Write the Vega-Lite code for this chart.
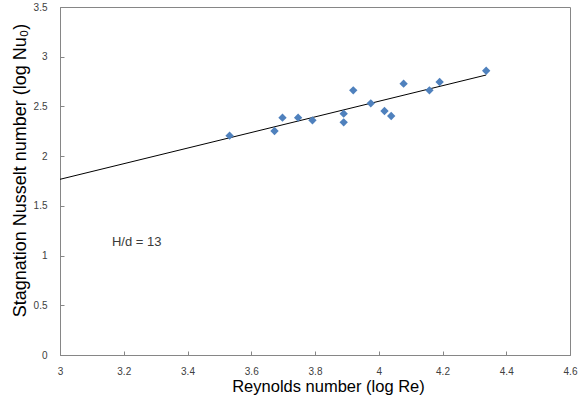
{
  "$schema": "https://vega.github.io/schema/vega-lite/v6.json",
  "width": 510,
  "height": 348,
  "autosize": {"type": "none"},
  "padding": {"left": 60, "top": 7, "right": 16, "bottom": 53},
  "background": "white",
  "config": {
    "font": "Liberation Sans",
    "view": {"stroke": "#868686", "strokeWidth": 1},
    "axis": {
      "grid": false,
      "domainColor": "#868686",
      "tickColor": "#868686",
      "tickSize": -4,
      "labelFont": "Liberation Sans",
      "labelFontSize": 10,
      "labelColor": "#404040",
      "titleFont": "Liberation Sans",
      "titleFontWeight": "normal",
      "titleColor": "#000000"
    }
  },
  "datasets": {
    "pts": [
      {"logRe": 3.532, "logNu": 2.206},
      {"logRe": 3.673, "logNu": 2.253},
      {"logRe": 3.698, "logNu": 2.387},
      {"logRe": 3.747, "logNu": 2.387},
      {"logRe": 3.792, "logNu": 2.360},
      {"logRe": 3.890, "logNu": 2.427},
      {"logRe": 3.890, "logNu": 2.340},
      {"logRe": 3.920, "logNu": 2.662},
      {"logRe": 3.975, "logNu": 2.531},
      {"logRe": 4.018, "logNu": 2.454},
      {"logRe": 4.039, "logNu": 2.404},
      {"logRe": 4.078, "logNu": 2.729},
      {"logRe": 4.159, "logNu": 2.662},
      {"logRe": 4.191, "logNu": 2.746},
      {"logRe": 4.337, "logNu": 2.859}
    ],
    "trend": [
      {"logRe": 3.0, "logNu": 1.767},
      {"logRe": 4.337, "logNu": 2.816}
    ],
    "note": [
      {"logRe": 3.163, "logNu": 1.137, "label": "H/d = 13"}
    ]
  },
  "layer": [
    {
      "data": {"name": "trend"},
      "mark": {"type": "line", "color": "#000000", "strokeWidth": 1},
      "encoding": {
        "x": {"field": "logRe", "type": "quantitative",
              "scale": {"domain": [3, 4.6], "nice": false, "zero": false},
              "axis": {"title": "Reynolds number (log Re)", "titleFontSize": 16.5, "titleX": 268, "format": "~g", "values": [3, 3.2, 3.4, 3.6, 3.8, 4, 4.2, 4.4, 4.6], "labelPadding": 15, "titlePadding": 2, "labelFlush": false}},
        "y": {"field": "logNu", "type": "quantitative",
              "scale": {"domain": [0, 3.5], "nice": false},
              "axis": {"title": "Stagnation Nusselt number (log Nu₀)", "titleFontSize": 18, "titleY": 163, "format": "~g", "values": [0, 0.5, 1, 1.5, 2, 2.5, 3, 3.5], "labelPadding": 17, "titlePadding": 4, "labelFlush": false}}
      }
    },
    {
      "data": {"name": "pts"},
      "mark": {"type": "point", "shape": "diamond", "filled": true, "color": "#4F81BD", "opacity": 1, "size": 70},
      "encoding": {
        "x": {"field": "logRe", "type": "quantitative"},
        "y": {"field": "logNu", "type": "quantitative"}
      }
    },
    {
      "data": {"name": "note"},
      "mark": {"type": "text", "align": "left", "baseline": "middle", "fontSize": 13, "color": "#3a3a3a", "font": "Liberation Sans"},
      "encoding": {
        "x": {"field": "logRe", "type": "quantitative"},
        "y": {"field": "logNu", "type": "quantitative"},
        "text": {"field": "label"}
      }
    }
  ]
}
